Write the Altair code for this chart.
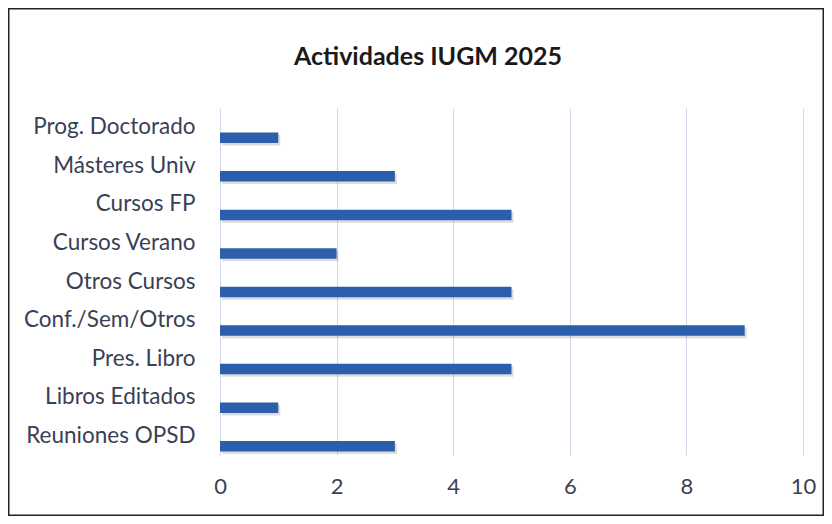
import altair as alt
import pandas as pd

categories = ["Prog. Doctorado", "Másteres Univ", "Cursos FP", "Cursos Verano",
              "Otros Cursos", "Conf./Sem/Otros", "Pres. Libro", "Libros Editados",
              "Reuniones OPSD"]
values = [1, 3, 5, 2, 5, 9, 5, 1, 3]
x_ticks = [0, 2, 4, 6, 8, 10]
title_text = "Actividades IUGM 2025"

df = pd.DataFrame({"cat": categories, "val": values})

W, H = 583, 347
PL, PT, PR, PB = 212, 100, 21, 61
FONT = "Lato"
TXT = "#3a3f55"

y_enc = alt.Y("cat:N", sort=categories,
              scale=alt.Scale(paddingInner=0, paddingOuter=0),
              axis=alt.Axis(title=None, labelFontSize=22.5, labelColor=TXT, labelPadding=25,
                            ticks=False, domain=False, grid=False, labelFont=FONT))
x_enc = alt.X("val:Q", scale=alt.Scale(domain=[0, 10], nice=False),
              axis=alt.Axis(values=x_ticks, title=None, grid=True, gridColor="#cfd9ea",
                            gridWidth=1, ticks=False, domain=False, labelPadding=21,
                            labelFontSize=22, labelColor=TXT, labelFont=FONT,
                            labelFlush=False))

shadow = alt.Chart(df).mark_bar(height=10.5, yOffset=13, xOffset=2, color="#777777",
                                opacity=0.25).encode(x=x_enc, y=y_enc)
bars = alt.Chart(df).mark_bar(height=10.5, yOffset=10.5, color="#2b5fab").encode(x=x_enc, y=y_enc)

deco = pd.DataFrame({"a": [0]})
border = alt.Chart(deco).mark_rect(
    fill=None, stroke="#222222", strokeWidth=1.5).encode(
    x=alt.value(-PL + 0.75), x2=alt.value(W + PR - 0.75),
    y=alt.value(-PT + 0.75), y2=alt.value(H + PB - 0.75))

title = alt.Chart(deco).mark_text(
    text=title_text, font=FONT, fontSize=25, fontWeight="bold", color="#1a1a1a",
    align="center", baseline="middle").encode(x=alt.value(208), y=alt.value(-51))

chart = alt.layer(shadow, bars, border, title).properties(
    width=W, height=H,
    autosize=alt.AutoSizeParams(type="none"),
    padding={"left": PL, "top": PT, "right": PR, "bottom": PB},
    background="white",
).configure_view(stroke=None)

chart.save("out.html", embed_options={"renderer": "svg", "actions": False})
